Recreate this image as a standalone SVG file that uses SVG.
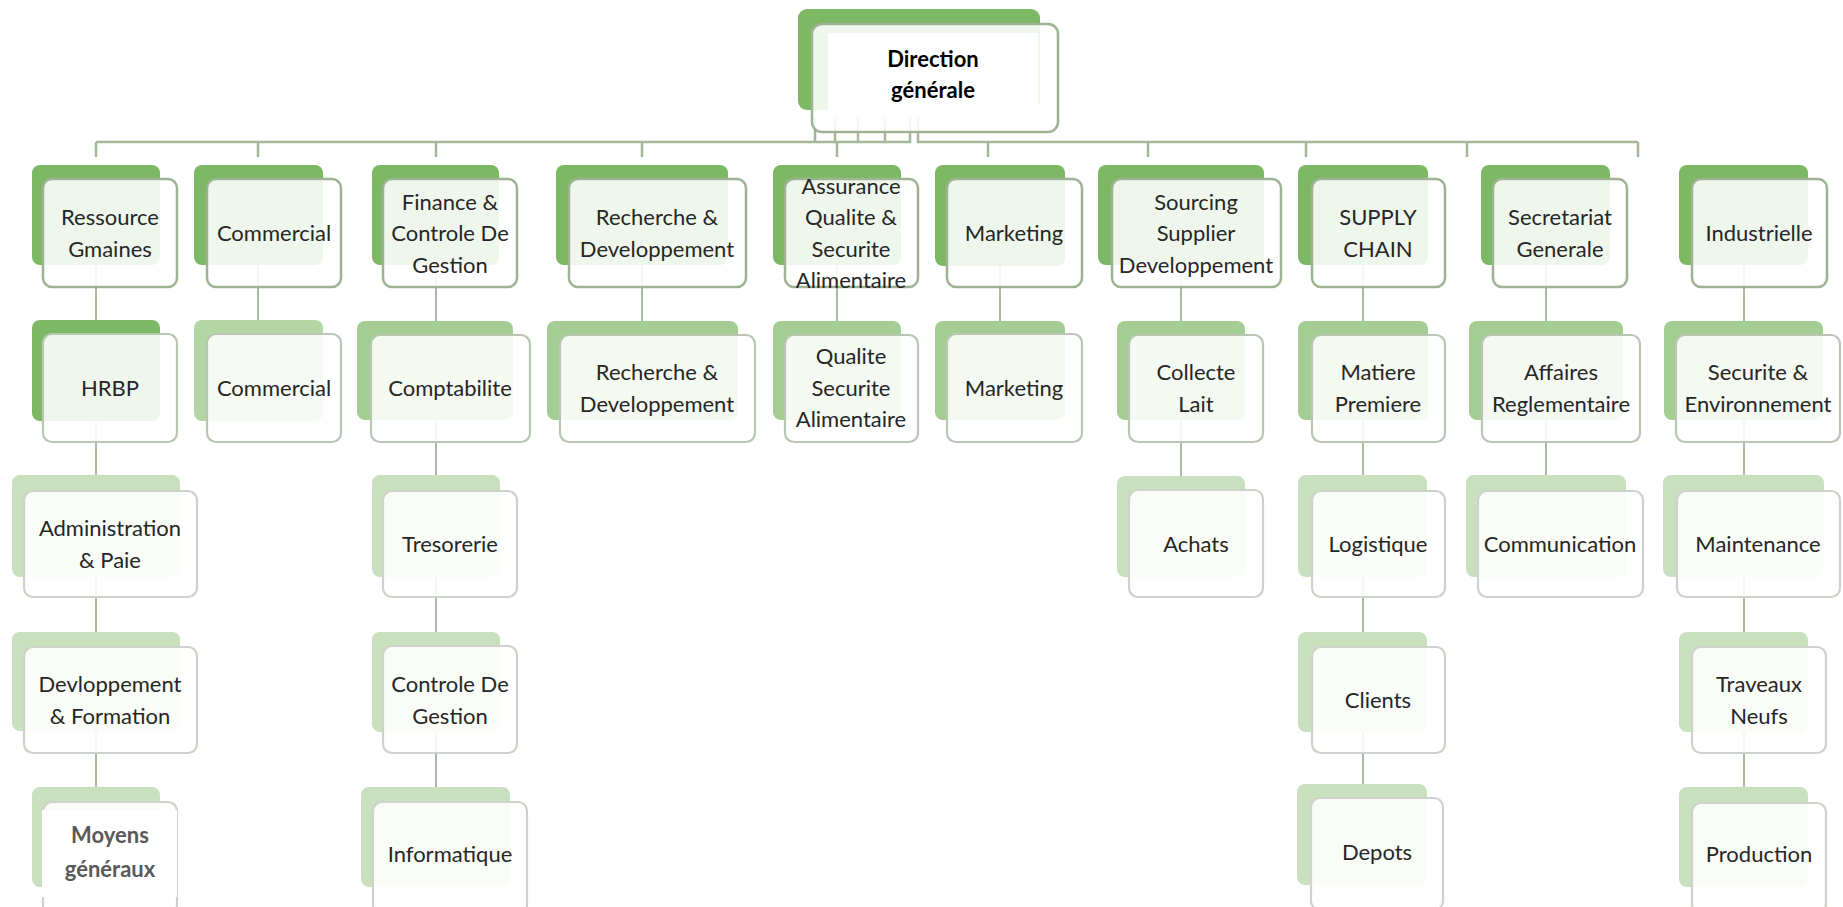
<svg xmlns="http://www.w3.org/2000/svg" width="1843" height="907" viewBox="0 0 1843 907">
<style>
  .bg{fill:#ffffff}
  .dark{fill:#7db965}
  .mid{fill:#a3cd92}
  .midl{fill:#b2d6a4}
  .light{fill:#c9e0bf}
  .f1{fill:#ffffff;fill-opacity:0.88;stroke:#9db393;stroke-width:2.5}
  .f2{fill:#ffffff;fill-opacity:0.88;stroke:#bac6b4;stroke-width:2.2}
  .f3{fill:#ffffff;fill-opacity:0.88;stroke:#cdd3ca;stroke-width:2.2}
  .t{font-family:Lato,"Liberation Sans",sans-serif;font-size:22px;fill:#262626;text-anchor:middle}
  .tb{font-family:Lato,"Liberation Sans",sans-serif;font-size:22px;font-weight:bold;text-anchor:middle}
  .con{fill:none;stroke:#aab8a4;stroke-width:2}
  .bus{fill:none;stroke:#a2b897;stroke-width:2.5}
</style>
<rect class="bg" x="0" y="0" width="1843" height="907"/>
<g id="connectors">
  <path class="bus" d="M96,142 H910 V118 M918,118 V142 H1638 M815,118 V142 M835,118 V142 M858,118 V142 M885,118 V142"/>
  <path class="bus" d="M96,142 V157 M258,142 V157 M436,142 V157 M642,142 V157 M837,142 V157 M988,142 V157 M1148,142 V157 M1306,142 V157 M1467,142 V157 M1638,142 V157"/>
  <path class="con" d="M96,265 V320 M96,421 V475 M96,577 V632 M96,731 V787"/>
  <path class="con" d="M258,265 V320"/>
  <path class="con" d="M436,265 V321 M436,420 V475 M436,577 V632 M436,732 V787"/>
  <path class="con" d="M642,265 V321"/>
  <path class="con" d="M837,265 V321"/>
  <path class="con" d="M1000,266 V321"/>
  <path class="con" d="M1181,265 V321 M1181,420 V476"/>
  <path class="con" d="M1363,265 V321 M1363,420 V475 M1363,577 V632 M1363,732 V784"/>
  <path class="con" d="M1546,265 V321 M1546,420 V475"/>
  <path class="con" d="M1744,265 V321 M1744,420 V475 M1744,577 V632 M1744,732 V787"/>
</g>

<g id="n-direction">
  <rect class="dark" x="798" y="9" width="242" height="101" rx="9"/>
  <rect class="f1" x="812" y="24" width="246" height="108" rx="10"/>
  <rect fill="#ffffff" x="828" y="33" width="210" height="85"/>
  <text class="tb" fill="#000000" x="933" y="67">Direction</text>
  <text class="tb" fill="#000000" x="933" y="98">générale</text>
</g>

<!-- Column 1 -->
<g id="n-ressource">
  <rect class="dark" x="32" y="165" width="128" height="100" rx="8"/>
  <rect class="f1" x="43" y="179" width="134" height="108" rx="9"/>
  <text class="t" x="110" y="225">Ressource</text>
  <text class="t" x="110" y="257">Gmaines</text>
</g>
<g id="n-hrbp">
  <rect class="dark" x="32" y="320" width="128" height="101" rx="8"/>
  <rect class="f2" x="43" y="334" width="134" height="108" rx="9"/>
  <text class="t" x="110" y="396">HRBP</text>
</g>
<g id="n-administration">
  <rect class="light" x="12" y="475" width="168" height="102" rx="8"/>
  <rect class="f3" x="24" y="491" width="173" height="106" rx="9"/>
  <text class="t" x="110" y="536">Administration</text>
  <text class="t" x="110" y="568">&amp; Paie</text>
</g>
<g id="n-devloppement">
  <rect class="light" x="12" y="632" width="168" height="99" rx="8"/>
  <rect class="f3" x="24" y="647" width="173" height="106" rx="9"/>
  <text class="t" x="110" y="692">Devloppement</text>
  <text class="t" x="110" y="724">&amp; Formation</text>
</g>
<g id="n-moyens">
  <rect class="light" x="32" y="787" width="128" height="100" rx="8"/>
  <rect class="f3" x="43" y="802" width="134" height="112" rx="9"/>
  <rect fill="#ffffff" x="42" y="810" width="135" height="87"/>
  <text class="tb" fill="#595959" x="110" y="843">Moyens</text>
  <text class="tb" fill="#595959" x="110" y="877">généraux</text>
</g>

<!-- Column 2 -->
<g id="n-commercial">
  <rect class="dark" x="194" y="165" width="129" height="100" rx="8"/>
  <rect class="f1" x="207" y="179" width="134" height="108" rx="9"/>
  <text class="t" x="274" y="241">Commercial</text>
</g>
<g id="n-commercial-2">
  <rect class="midl" x="194" y="320" width="129" height="101" rx="8"/>
  <rect class="f2" x="207" y="334" width="134" height="108" rx="9"/>
  <text class="t" x="274" y="396">Commercial</text>
</g>

<!-- Column 3 -->
<g id="n-finance">
  <rect class="dark" x="372" y="165" width="127" height="100" rx="8"/>
  <rect class="f1" x="383" y="179" width="134" height="108" rx="9"/>
  <text class="t" x="450" y="210">Finance &amp;</text>
  <text class="t" x="450" y="241">Controle De</text>
  <text class="t" x="450" y="273">Gestion</text>
</g>
<g id="n-comptabilite">
  <rect class="mid" x="357" y="321" width="156" height="99" rx="8"/>
  <rect class="f2" x="371" y="335" width="159" height="107" rx="9"/>
  <text class="t" x="450" y="396">Comptabilite</text>
</g>
<g id="n-tresorerie">
  <rect class="light" x="372" y="475" width="128" height="102" rx="8"/>
  <rect class="f3" x="383" y="491" width="134" height="106" rx="9"/>
  <text class="t" x="450" y="552">Tresorerie</text>
</g>
<g id="n-controle">
  <rect class="light" x="372" y="632" width="128" height="100" rx="8"/>
  <rect class="f3" x="383" y="646" width="134" height="107" rx="9"/>
  <text class="t" x="450" y="692">Controle De</text>
  <text class="t" x="450" y="724">Gestion</text>
</g>
<g id="n-informatique">
  <rect class="light" x="361" y="787" width="149" height="100" rx="8"/>
  <rect class="f3" x="373" y="802" width="154" height="112" rx="9"/>
  <text class="t" x="450" y="862">Informatique</text>
</g>

<!-- Column 4 -->
<g id="n-recherche">
  <rect class="dark" x="556" y="165" width="172" height="100" rx="8"/>
  <rect class="f1" x="569" y="179" width="177" height="108" rx="9"/>
  <text class="t" x="657" y="225">Recherche &amp;</text>
  <text class="t" x="657" y="257">Developpement</text>
</g>
<g id="n-recherche-2">
  <rect class="mid" x="547" y="321" width="191" height="99" rx="8"/>
  <rect class="f2" x="560" y="335" width="195" height="107" rx="9"/>
  <text class="t" x="657" y="380">Recherche &amp;</text>
  <text class="t" x="657" y="412">Developpement</text>
</g>

<!-- Column 5 -->
<g id="n-assurance">
  <rect class="dark" x="773" y="165" width="128" height="100" rx="8"/>
  <rect class="f1" x="785" y="179" width="133" height="108" rx="9"/>
  <text class="t" x="851" y="194">Assurance</text>
  <text class="t" x="851" y="225">Qualite &amp;</text>
  <text class="t" x="851" y="257">Securite</text>
  <text class="t" x="851" y="288">Alimentaire</text>
</g>
<g id="n-qualite">
  <rect class="mid" x="773" y="321" width="128" height="99" rx="8"/>
  <rect class="f2" x="785" y="335" width="133" height="107" rx="9"/>
  <text class="t" x="851" y="364">Qualite</text>
  <text class="t" x="851" y="396">Securite</text>
  <text class="t" x="851" y="427">Alimentaire</text>
</g>

<!-- Column 6 -->
<g id="n-marketing">
  <rect class="dark" x="935" y="165" width="130" height="101" rx="8"/>
  <rect class="f1" x="947" y="179" width="135" height="108" rx="9"/>
  <text class="t" x="1014" y="241">Marketing</text>
</g>
<g id="n-marketing-2">
  <rect class="mid" x="935" y="321" width="130" height="99" rx="8"/>
  <rect class="f2" x="947" y="334" width="135" height="108" rx="9"/>
  <text class="t" x="1014" y="396">Marketing</text>
</g>

<!-- Column 7 -->
<g id="n-sourcing">
  <rect class="dark" x="1098" y="165" width="166" height="100" rx="8"/>
  <rect class="f1" x="1112" y="179" width="169" height="108" rx="9"/>
  <text class="t" x="1196" y="210">Sourcing</text>
  <text class="t" x="1196" y="241">Supplier</text>
  <text class="t" x="1196" y="273">Developpement</text>
</g>
<g id="n-collecte">
  <rect class="mid" x="1117" y="321" width="128" height="99" rx="8"/>
  <rect class="f2" x="1129" y="335" width="134" height="107" rx="9"/>
  <text class="t" x="1196" y="380">Collecte</text>
  <text class="t" x="1196" y="412">Lait</text>
</g>
<g id="n-achats">
  <rect class="light" x="1117" y="476" width="128" height="101" rx="8"/>
  <rect class="f3" x="1129" y="490" width="134" height="107" rx="9"/>
  <text class="t" x="1196" y="552">Achats</text>
</g>

<!-- Column 8 -->
<g id="n-supply">
  <rect class="dark" x="1298" y="165" width="130" height="100" rx="8"/>
  <rect class="f1" x="1312" y="179" width="133" height="108" rx="9"/>
  <text class="t" x="1378" y="225">SUPPLY</text>
  <text class="t" x="1378" y="257">CHAIN</text>
</g>
<g id="n-matiere">
  <rect class="mid" x="1298" y="321" width="130" height="99" rx="8"/>
  <rect class="f2" x="1312" y="335" width="133" height="107" rx="9"/>
  <text class="t" x="1378" y="380">Matiere</text>
  <text class="t" x="1378" y="412">Premiere</text>
</g>
<g id="n-logistique">
  <rect class="light" x="1298" y="475" width="129" height="102" rx="8"/>
  <rect class="f3" x="1312" y="491" width="133" height="106" rx="9"/>
  <text class="t" x="1378" y="552">Logistique</text>
</g>
<g id="n-clients">
  <rect class="light" x="1298" y="632" width="129" height="100" rx="8"/>
  <rect class="f3" x="1312" y="647" width="133" height="106" rx="9"/>
  <text class="t" x="1378" y="708">Clients</text>
</g>
<g id="n-depots">
  <rect class="light" x="1297" y="784" width="130" height="101" rx="8"/>
  <rect class="f3" x="1311" y="798" width="132" height="112" rx="9"/>
  <text class="t" x="1377" y="860">Depots</text>
</g>

<!-- Column 9 -->
<g id="n-secretariat">
  <rect class="dark" x="1481" y="165" width="129" height="100" rx="8"/>
  <rect class="f1" x="1493" y="179" width="134" height="108" rx="9"/>
  <text class="t" x="1560" y="225">Secretariat</text>
  <text class="t" x="1560" y="257">Generale</text>
</g>
<g id="n-affaires">
  <rect class="mid" x="1469" y="321" width="154" height="99" rx="8"/>
  <rect class="f2" x="1482" y="335" width="158" height="107" rx="9"/>
  <text class="t" x="1561" y="380">Affaires</text>
  <text class="t" x="1561" y="412">Reglementaire</text>
</g>
<g id="n-communication">
  <rect class="light" x="1466" y="475" width="160" height="102" rx="8"/>
  <rect class="f3" x="1478" y="491" width="165" height="106" rx="9"/>
  <text class="t" x="1560" y="552">Communication</text>
</g>

<!-- Column 10 -->
<g id="n-industrielle">
  <rect class="dark" x="1679" y="165" width="129" height="100" rx="8"/>
  <rect class="f1" x="1692" y="179" width="135" height="108" rx="9"/>
  <text class="t" x="1759" y="241">Industrielle</text>
</g>
<g id="n-securite">
  <rect class="mid" x="1664" y="321" width="159" height="99" rx="8"/>
  <rect class="f2" x="1676" y="335" width="164" height="107" rx="9"/>
  <text class="t" x="1758" y="380">Securite &amp;</text>
  <text class="t" x="1758" y="412">Environnement</text>
</g>
<g id="n-maintenance">
  <rect class="light" x="1663" y="475" width="161" height="102" rx="8"/>
  <rect class="f3" x="1677" y="491" width="163" height="106" rx="9"/>
  <text class="t" x="1758" y="552">Maintenance</text>
</g>
<g id="n-traveaux">
  <rect class="light" x="1679" y="632" width="129" height="100" rx="8"/>
  <rect class="f3" x="1692" y="647" width="134" height="106" rx="9"/>
  <text class="t" x="1759" y="692">Traveaux</text>
  <text class="t" x="1759" y="724">Neufs</text>
</g>
<g id="n-production">
  <rect class="light" x="1679" y="787" width="129" height="100" rx="8"/>
  <rect class="f3" x="1692" y="803" width="134" height="110" rx="9"/>
  <text class="t" x="1759" y="862">Production</text>
</g>
</svg>
